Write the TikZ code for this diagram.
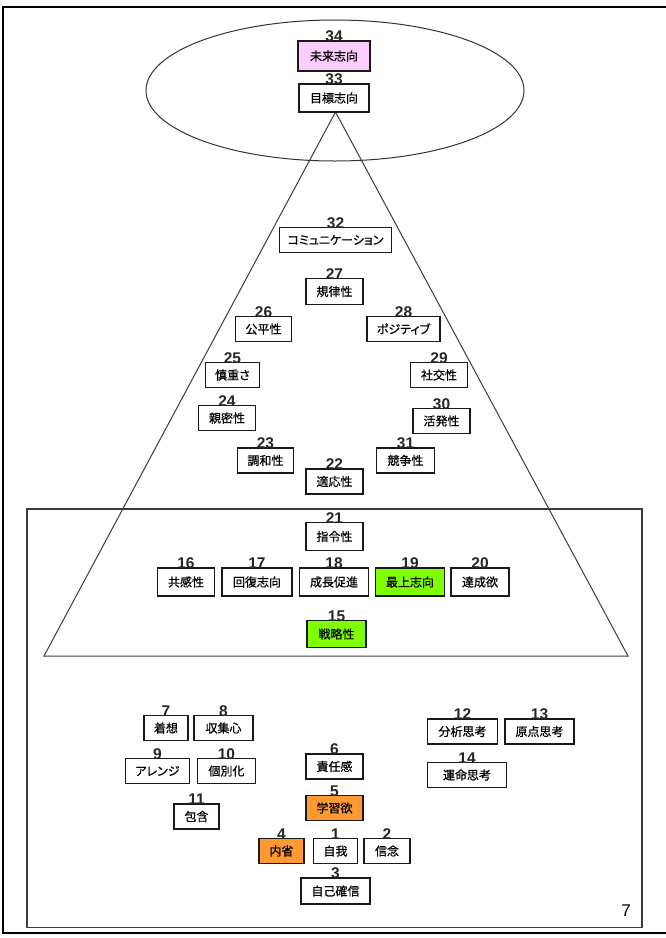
\documentclass[tikz,border=0pt]{standalone}
\usepackage{fontspec}
\setmainfont{Liberation Sans}
\newfontfamily\jpfont[RawFeature=+palt,FakeBold=0.6]{Noto Sans CJK JP}
\definecolor{pinkfill}{RGB}{255,204,255}
\definecolor{limefill}{RGB}{128,255,0}
\definecolor{orangefill}{RGB}{255,153,51}
\definecolor{framegray}{RGB}{60,60,60}

% #1 extra style, #2 name, #3 centre, #4 width, #5 height, #6 label, #7 number
\newcommand\strengthbox[7]{%
  \node[sbox,#1,minimum width=#4pt,minimum height=#5pt] (#2) at (#3) {#6};
  \node[num] (n#2) at ([yshift=-1.5pt]#2.north) {#7};
}

\begin{document}
\begin{tikzpicture}[x=1pt,y=-1pt,
  sbox/.style={draw=black!90, line width=1.25pt, fill=white, inner sep=0pt,
    font=\jpfont\fontsize{12}{12}\selectfont},
  num/.style={anchor=base, inner sep=0pt,
    font=\bfseries\fontsize{15.5}{15.5}\selectfont, text=black!85},
  pinkbox/.style={fill=pinkfill},
  limebox/.style={fill=limefill},
  orangebox/.style={fill=orangefill}]

\useasboundingbox[fill=white] (0,0) rectangle (666,938);

% page frame
\draw[line width=2.5pt] (3,933.5) -- (3,7) -- (666,7);
\draw[line width=2pt] (3,932.5) -- (666,932.5);

% upper ellipse, pyramid and lower panel
\draw[line width=1pt, black!80] (335,90.5) ellipse [x radius=189, y radius=70.5];
\draw[framegray, line width=1pt] (335.5,112) -- (44,656) -- (628,656) -- cycle;
\draw[framegray, line width=1.5pt] (27,509) rectangle (642,927.5);

% top of the hierarchy
\strengthbox{pinkbox}{s34}{334,56}{72}{30}{未来志向}{34}
\strengthbox{}{s33}{334,98}{70}{28}{目標志向}{33}

% pyramid
\strengthbox{}{s32}{335.5,240}{112}{25}{コミュニケーション}{32}
\strengthbox{}{s27}{334.5,291.5}{57}{26}{規律性}{27}
\strengthbox{}{s26}{263.5,329}{56}{25}{公平性}{26}
\strengthbox{}{s28}{403.5,329}{73}{25}{ポジティブ}{28}
\strengthbox{}{s25}{232.5,375}{54}{25}{慎重さ}{25}
\strengthbox{}{s29}{439,375}{57}{25}{社交性}{29}
\strengthbox{}{s24}{227,418}{57}{25}{親密性}{24}
\strengthbox{}{s30}{441.5,421}{57}{25}{活発性}{30}
\strengthbox{}{s23}{265.5,460.5}{56}{25}{調和性}{23}
\strengthbox{}{s31}{405.5,460.5}{58}{25}{競争性}{31}
\strengthbox{}{s22}{334.5,481.5}{57}{25}{適応性}{22}

% pyramid base inside the lower panel
\strengthbox{}{s21}{334.5,536.5}{57}{28}{指令性}{21}
\strengthbox{}{s16}{186,582}{57}{28}{共感性}{16}
\strengthbox{}{s17}{257,582}{70}{28}{回復志向}{17}
\strengthbox{}{s18}{334,582}{69}{28}{成長促進}{18}
\strengthbox{limebox}{s19}{410,582}{69}{28}{最上志向}{19}
\strengthbox{}{s20}{480,582}{58}{28}{達成欲}{20}
\strengthbox{limebox}{s15}{336.5,634}{59}{27}{戦略性}{15}

% lower panel, left group
\strengthbox{}{s7}{166,728}{44}{25}{着想}{7}
\strengthbox{}{s8}{223.5,728}{59}{25}{収集心}{8}
\strengthbox{}{s9}{157.5,771}{64}{25}{アレンジ}{9}
\strengthbox{}{s10}{226.5,771}{58}{25}{個別化}{10}
\strengthbox{}{s11}{196.5,816.5}{45}{25}{包含}{11}

% lower panel, right group
\strengthbox{}{s12}{462.5,731.5}{70}{25}{分析思考}{12}
\strengthbox{}{s13}{539.5,731.5}{69}{25}{原点思考}{13}
\strengthbox{}{s14}{467,775}{79}{25}{運命思考}{14}

% lower panel, centre column
\strengthbox{}{s6}{334.5,766.5}{57}{25}{責任感}{6}
\strengthbox{orangebox}{s5}{334.5,808}{57}{25}{学習欲}{5}
\strengthbox{orangebox}{s4}{281.5,851}{45}{25}{内省}{4}
\strengthbox{}{s1}{335.5,851}{44}{25}{自我}{1}
\strengthbox{}{s2}{387,851}{46}{25}{信念}{2}
\strengthbox{}{s3}{335.5,891}{69}{26}{自己確信}{3}

% page number
\node[anchor=base, inner sep=0pt, font=\fontsize{17}{17}\selectfont] (pageno) at (626,916.5) {7};

\end{tikzpicture}
\end{document}
